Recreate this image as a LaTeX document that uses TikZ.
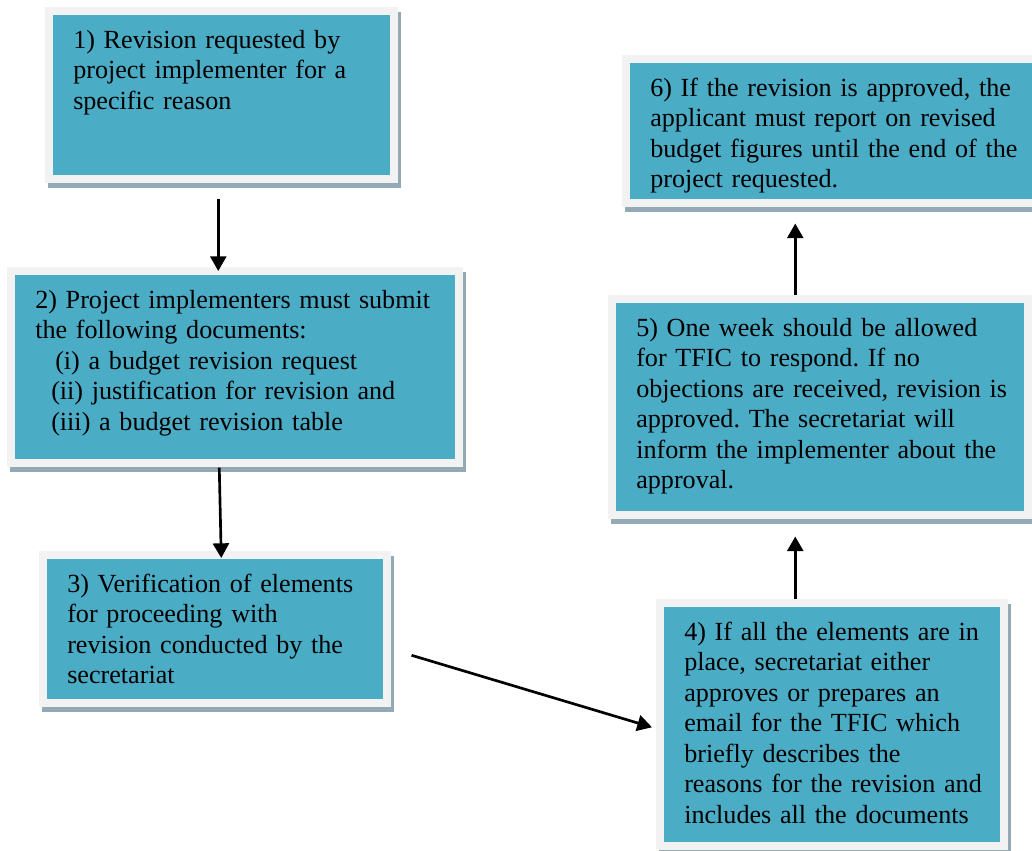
\documentclass[tikz,border=0pt]{standalone}
\usepackage{fontspec}
\setmainfont{Liberation Serif}
\usepackage{xcolor}
\usepackage{tikz}
\usetikzlibrary{arrows.meta}
\definecolor{boxteal}{RGB}{75,172,198}
\definecolor{boxframe}{RGB}{242,242,242}
\definecolor{boxshade}{RGB}{147,170,180}
\newlength{\px}
\setlength{\px}{0.75pt}
\frenchspacing
\tikzset{
  stepbox/.style = {rectangle, fill=boxteal, anchor=north west, align=left,
                    inner xsep=0pt, inner ysep=0pt, text height=33\px,
                    font=\fontsize{19.6pt}{22.9pt}\selectfont,
                    execute at begin node={\leftskip=20\px\relax},
                    preaction={draw=boxshade, fill=boxshade, line width=16\px,
                               transform canvas={xshift=3\px, yshift=-5\px}},
                    preaction={draw=boxframe, line width=16\px}},
  flow/.style    = {-{Triangle[length=11pt, width=12pt]}, line width=2pt},
}

\begin{document}
\begin{tikzpicture}[x=0.75pt, y=-0.75pt]
  \clip (0,0) rectangle (1032,850);
  \fill[white] (0,0) rectangle (1032,850);

  % left column
  \node[stepbox, text width=337\px, text depth=127\px] (s1) at (53,15)
    {1) Revision requested by\\project implementer for a\\specific reason};
  \node[stepbox, text width=440\px, text depth=151\px] (s2) at (15,275)
    {2) Project implementers must submit\\the following documents:\\
     \hspace*{20\px}(i) a budget revision request\\
     \hspace*{16\px}(ii) justification for revision and\\
     \hspace*{16\px}(iii) a budget revision table};
  \node[stepbox, text width=336\px, text depth=107\px] (s3) at (47,559)
    {3) Verification of elements\\for proceeding with\\revision conducted by the\\secretariat};

  % right column
  \node[stepbox, text width=336\px, text depth=202\px] (s4) at (664,607)
    {4) If all the elements are in\\place, secretariat either\\approves or prepares an\\email for the TFIC which\\briefly describes the\\reasons for the revision and\\includes all the documents};
  \node[stepbox, text width=408\px, text depth=175\px] (s5) at (616,303)
    {5) One week should be allowed\\for TFIC to respond. If no\\objections are received, revision is\\approved. The secretariat will\\inform the implementer about the\\approval.};
  \node[stepbox, text width=410\px, text depth=103\px] (s6) at (630,63)
    {6) If the revision is approved, the\\applicant must report on revised\\budget figures until the end of the\\project requested.};

  % arrows
  \draw[flow] ([xshift=-3.5\px, yshift=-23\px]s1.south) -- ([xshift=-17\px, yshift=4\px]s2.north);
  \draw[flow] ([xshift=-16\px, yshift=-8\px]s2.south) -- ([xshift=6\px, yshift=1\px]s3.north);
  \draw[flow] ([xshift=28\px, yshift=-26\px]s3.east) -- ([xshift=-12\px, yshift=-2.5\px]s4.west);
  \draw[flow] ([xshift=-37\px, yshift=8\px]s4.north) -- ([xshift=-25\px, yshift=-25\px]s5.south);
  \draw[flow] ([xshift=-25\px, yshift=8\px]s5.north) -- ([xshift=-40\px, yshift=-24\px]s6.south);
\end{tikzpicture}
\end{document}
